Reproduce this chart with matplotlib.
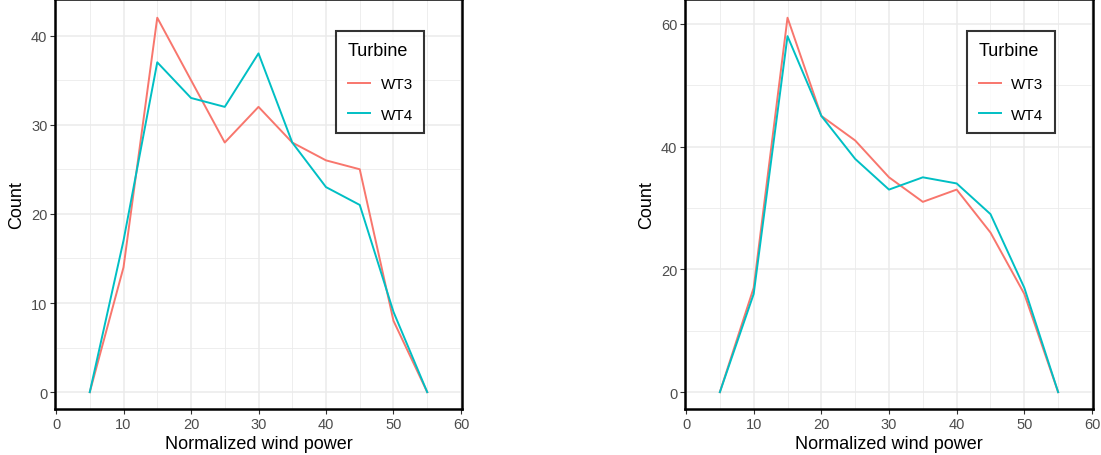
import numpy as np
import matplotlib.pyplot as plt
from matplotlib.ticker import MultipleLocator

plt.rcParams['font.family'] = ['Liberation Sans', 'DejaVu Sans']

# --------------------- data ---------------------
power = [5, 10, 15, 20, 25, 30, 35, 40, 45, 50, 55]

# left panel
wt3_a = [0, 14, 42, 35, 28, 32, 28, 26, 25, 8, 0]
wt4_a = [0, 17, 37, 33, 32, 38, 28, 23, 21, 9, 0]

# right panel
wt3_b = [0, 17, 61, 45, 41, 35, 31, 33, 26, 16, 0]
wt4_b = [0, 16, 58, 45, 38, 33, 35, 34, 29, 17, 0]

turbines = ['WT3', 'WT4']
colors = ['#F8766D', '#00BFC4']

fig = plt.figure(figsize=(11.01, 4.56), dpi=100)
W, H = 1101, 456
ax1 = fig.add_axes([55 / W, 1 - 410 / H, (462 - 55) / W, 410 / H])
ax2 = fig.add_axes([685 / W, 1 - 410 / H, (1093 - 685) / W, 410 / H])


def draw_panel(ax, series, ymax, ystep):
    for vals, name, c in zip(series, turbines, colors):
        ax.plot(power, vals, color=c, lw=1.4, label=name, zorder=3)
    ax.set_xlim(-0.15, 60.15)
    ax.set_ylim(-ymax * 0.045, ymax * 1.05)
    ax.xaxis.set_major_locator(MultipleLocator(10))
    ax.xaxis.set_minor_locator(MultipleLocator(5))
    ax.yaxis.set_major_locator(MultipleLocator(ystep))
    ax.yaxis.set_minor_locator(MultipleLocator(ystep / 2))
    ax.grid(which='major', color='#EBEBEB', lw=1.1, zorder=0)
    ax.grid(which='minor', color='#EBEBEB', lw=0.6, zorder=0)
    ax.set_axisbelow(True)
    for s in ax.spines.values():
        s.set_linewidth(1.8)
        s.set_color('black')
    ax.tick_params(which='major', length=3.5, width=0.8, color='#333333',
                   labelsize=10.5, labelcolor='#4D4D4D', pad=2)
    ax.tick_params(which='minor', length=0)
    ax.set_xlabel('Normalized wind power', fontsize=13, labelpad=3)
    ax.set_ylabel('Count', fontsize=13, labelpad=4)
    leg = ax.legend(title='Turbine', loc='upper right', bbox_to_anchor=(0.907, 0.922),
                    borderaxespad=0,
                    fontsize=11, title_fontsize=13, frameon=True, fancybox=False,
                    edgecolor='black', handlelength=1.45, borderpad=0.75,
                    labelspacing=1.05, handletextpad=0.7)
    leg.get_frame().set_linewidth(1.5)
    leg._legend_box.align = 'left'
    leg._legend_box.sep = 13


draw_panel(ax1, [wt3_a, wt4_a], 42, 10)
draw_panel(ax2, [wt3_b, wt4_b], 61, 20)

fig.savefig('out.png', dpi=100)
